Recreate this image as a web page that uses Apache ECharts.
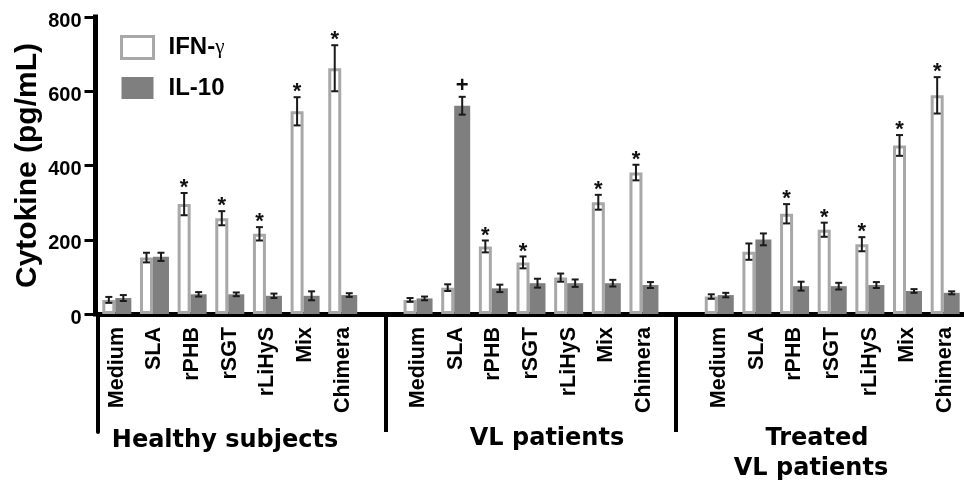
<!DOCTYPE html>
<html><head><meta charset="utf-8">
<script src="https://cdn.jsdelivr.net/npm/echarts@6/dist/echarts.min.js"></script>
<style>html,body{margin:0;padding:0;background:#fff}#c{width:964px;height:487px}</style>
</head><body><div id="c"></div>
<script>
// ---------- data ----------
const treatments = ['Medium', 'SLA', 'rPHB', 'rSGT', 'rLiHyS', 'Mix', 'Chimera'];
const groupLabels = ['Healthy subjects', 'VL patients', 'Treated', 'VL patients'];
const seriesNames = ['IFN-γ', 'IL-10'];
const yTicks = [0, 200, 400, 600, 800];

const ifnHealthy     = [38, 152, 296, 258, 216, 546, 662];
const ifnHealthyErr  = [8, 13, 30, 19, 18, 38, 62];
const il10Healthy    = [43, 154, 53, 53, 49, 49, 51];
const il10HealthyErr = [8, 11, 6, 5, 6, 12, 5];

const ifnVL     = [38, 71, 182, 139, 98, 301, 381];
const ifnVLErr  = [5, 9, 16, 16, 11, 20, 21];
const il10VL    = [42, 561, 69, 83, 83, 83, 78];
const il10VLErr = [5, 24, 10, 12, 10, 9, 8];

const ifnTreated     = [47, 168, 270, 227, 188, 454, 589];
const ifnTreatedErr  = [6, 22, 26, 19, 19, 28, 49];
const il10Treated    = [51, 201, 75, 75, 78, 62, 57];
const il10TreatedErr = [6, 16, 12, 9, 8, 5, 4];

const ifnMarksHealthy  = ['', '', '*', '*', '*', '*', '*'];
const ifnMarksVL       = ['', '', '*', '*', '', '*', '*'];
const ifnMarksTreated  = ['', '', '*', '*', '*', '*', '*'];
const il10MarksHealthy = ['', '', '', '', '', '', ''];
const il10MarksVL      = ['', '+', '', '', '', '', ''];
const il10MarksTreated = ['', '', '', '', '', '', ''];

// ---------- build ----------
const categories = [...treatments, '', ...treatments, '', ...treatments];
function joinGroups(a, b, c) { return [...a, '-', ...b, '-', ...c]; }
function errData(groups) {
  const out = [];
  groups.forEach((g, gi) => g.vals.forEach((v, k) => out.push([gi * 8 + k, v, g.errs[k]])));
  return out;
}
function flatMarks(a, b, c) { return [...a, ...b, ...c]; }

const ifnBars = joinGroups(ifnHealthy, ifnVL, ifnTreated);
const il10Bars = joinGroups(il10Healthy, il10VL, il10Treated);
const ifnErr = errData([{vals: ifnHealthy, errs: ifnHealthyErr}, {vals: ifnVL, errs: ifnVLErr}, {vals: ifnTreated, errs: ifnTreatedErr}]);
const il10Err = errData([{vals: il10Healthy, errs: il10HealthyErr}, {vals: il10VL, errs: il10VLErr}, {vals: il10Treated, errs: il10TreatedErr}]);
const ifnMarks = flatMarks(ifnMarksHealthy, ifnMarksVL, ifnMarksTreated);
const il10Marks = flatMarks(il10MarksHealthy, il10MarksVL, il10MarksTreated);

const IFN_W = 13, IL_W = 16;
const ifnOffset = -(IFN_W + IL_W) / 2 + IFN_W / 2;
const ilOffset = -(IFN_W + IL_W) / 2 + IFN_W + IL_W / 2;

function errRenderer(offset, marks) {
  return function (params, api) {
    const i = api.value(0), v = api.value(1), e = api.value(2);
    const top = api.coord([i, v + e]);
    const bot = api.coord([i, v - e]);
    const x = top[0] + offset;
    const ls = {stroke: '#1a1a1a', lineWidth: 2};
    const children = [
      {type: 'line', shape: {x1: x, y1: top[1], x2: x, y2: bot[1]}, style: ls},
      {type: 'line', shape: {x1: x - 3.5, y1: top[1], x2: x + 3.5, y2: top[1]}, style: ls},
      {type: 'line', shape: {x1: x - 3.5, y1: bot[1], x2: x + 3.5, y2: bot[1]}, style: ls}
    ];
    const m = marks[params.dataIndex];
    if (m) {
      children.push({type: 'text', style: {
        text: m, x: x, y: top[1] - (m === '*' ? 5 : 11),
        align: 'center', verticalAlign: 'middle',
        fill: '#111', font: 'bold 22px "Liberation Sans"'
      }});
    }
    return {type: 'group', children: children};
  };
}

const FONT = '"Liberation Sans", Arial, sans-serif';
const GFONT = 'bold 24px "DejaVu Sans"';
const chart = echarts.init(document.getElementById('c'), null, {renderer: 'canvas'});
chart.setOption({
  animation: false,
  backgroundColor: '#fff',
  legend: {
    orient: 'vertical', left: 115, top: 30,
    itemWidth: 32, itemHeight: 22, itemGap: 16, icon: 'rect',
    data: [
      {name: seriesNames[0], itemStyle: {color: '#fff', borderColor: '#a8a8a8', borderWidth: 3}},
      {name: seriesNames[1], itemStyle: {color: '#7f7f7f', borderWidth: 0}}
    ],
    formatter: function (name) {
      return name === seriesNames[0] ? '{b|IFN-}{g|γ}' : '{b|' + name + '}';
    },
    textStyle: {
      padding: [0, 0, 0, 10], lineHeight: 22,
      rich: {
        b: {fontFamily: FONT, fontWeight: 'bold', fontSize: 24, color: '#000', lineHeight: 22},
        g: {fontFamily: '"Liberation Serif", serif', fontSize: 21, color: '#000', lineHeight: 22}
      }
    }
  },
  grid: [
    {left: 98, top: 17, width: 869.4, height: 297},
    {left: 98, top: 316, width: 869.4, height: 116}
  ],
  xAxis: [
    {
      type: 'category', gridIndex: 0, data: categories,
      axisLine: {lineStyle: {color: '#000', width: 5}},
      axisTick: {show: false},
      axisLabel: {interval: 0, rotate: 90, margin: 13, color: '#000', fontFamily: FONT, fontWeight: 'bold', fontSize: 21.5}
    },
    {type: 'value', gridIndex: 1, min: 0, max: 23, show: false}
  ],
  yAxis: [
    {
      type: 'value', gridIndex: 0,
      min: yTicks[0], max: yTicks[yTicks.length - 1], interval: yTicks[1] - yTicks[0],
      offset: 2.5,
      axisLine: {show: true, lineStyle: {color: '#000', width: 5, cap: 'square'}},
      axisTick: {show: true, length: 11, lineStyle: {color: '#000', width: 3}},
      axisLabel: {
        margin: 14, formatter: '{a|{value}}',
        rich: {a: {color: '#000', fontFamily: FONT, fontWeight: 'bold', fontSize: 20, padding: [8, 0, 0, 0]}}
      },
      splitLine: {show: false},
      name: 'Cytokine (pg/mL)', nameLocation: 'middle', nameGap: 53, nameMoveOverlap: false,
      nameTextStyle: {color: '#000', fontFamily: FONT, fontWeight: 'bold', fontSize: 30}
    },
    {
      type: 'value', gridIndex: 1, min: 0, max: 1, offset: 3,
      axisLine: {show: true, lineStyle: {color: '#000', width: 4}},
      axisTick: {show: false}, axisLabel: {show: false}, splitLine: {show: false}
    }
  ],
  graphic: [
    {type: 'text', x: 225, y: 441, style: {text: groupLabels[0], align: 'center', verticalAlign: 'middle', fill: '#000', font: GFONT}},
    {type: 'text', x: 547, y: 439, style: {text: groupLabels[1], align: 'center', verticalAlign: 'middle', fill: '#000', font: GFONT}},
    {type: 'text', x: 817, y: 439, style: {text: groupLabels[2], align: 'center', verticalAlign: 'middle', fill: '#000', font: GFONT}},
    {type: 'text', x: 811, y: 469, style: {text: groupLabels[3], align: 'center', verticalAlign: 'middle', fill: '#000', font: GFONT}}
  ],
  series: [
    {
      name: seriesNames[0], type: 'bar', xAxisIndex: 0, yAxisIndex: 0,
      data: ifnBars, barWidth: IFN_W, barGap: '0%',
      itemStyle: {color: '#fff', borderColor: '#a8a8a8', borderWidth: 3}
    },
    {
      name: seriesNames[1], type: 'bar', xAxisIndex: 0, yAxisIndex: 0,
      data: il10Bars, barWidth: IL_W, barGap: '0%',
      itemStyle: {color: '#7f7f7f'}
    },
    {
      type: 'custom', xAxisIndex: 0, yAxisIndex: 0, z: 5,
      data: ifnErr, encode: {x: 0, y: 1},
      renderItem: errRenderer(ifnOffset, ifnMarks), silent: true
    },
    {
      type: 'custom', xAxisIndex: 0, yAxisIndex: 0, z: 5,
      data: il10Err, encode: {x: 0, y: 1},
      renderItem: errRenderer(ilOffset, il10Marks), silent: true
    },
    {
      type: 'line', xAxisIndex: 1, yAxisIndex: 1, data: [], silent: true,
      markLine: {
        symbol: 'none', silent: true, animation: false, label: {show: false},
        lineStyle: {color: '#000', width: 4, type: 'solid'},
        data: [{xAxis: 7.65}, {xAxis: 15.34}]
      }
    }
  ]
});
</script></body></html>
